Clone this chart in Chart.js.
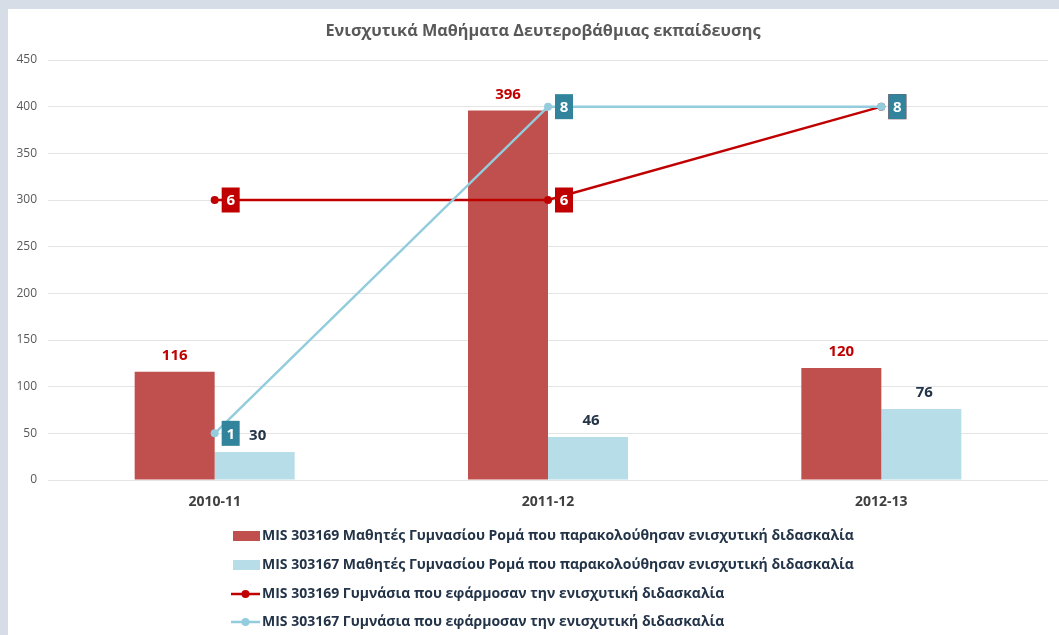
<!DOCTYPE html>
<html>
<head>
<meta charset="utf-8">
<script src="https://cdn.jsdelivr.net/npm/chart.js@4.4.1/dist/chart.umd.min.js"></script>
<style>
  html, body { margin: 0; padding: 0; background: #d6dde6; width: 1059px; height: 635px; overflow: hidden; }
  #panel { position: absolute; left: 8px; top: 9px; width: 1051px; height: 626px; background: #ffffff; }
  canvas { display: block; }
</style>
</head>
<body>
<div id="panel"><canvas id="c" width="1051" height="626"></canvas></div>
<script>
// ---- data ----
const chartTitle = 'Ενισχυτικά Μαθήματα Δευτεροβάθμιας εκπαίδευσης';
const categories = ['2010-11', '2011-12', '2012-13'];
const seriesLabels = [
  'MIS 303169 Μαθητές Γυμνασίου Ρομά που παρακολούθησαν ενισχυτική διδασκαλία',
  'MIS 303167 Μαθητές Γυμνασίου Ρομά που παρακολούθησαν ενισχυτική διδασκαλία',
  'MIS 303169 Γυμνάσια που εφάρμοσαν την ενισχυτική διδασκαλία',
  'MIS 303167 Γυμνάσια που εφάρμοσαν την ενισχυτική διδασκαλία'
];
const students303169 = [116, 396, 120];
const students303167 = [30, 46, 76];
const schools303169 = [6, 6, 8];
const schools303167 = [1, 8, 8];
const leftAxisMax = 450;
const leftAxisStep = 50;
const rightAxisMax = 9;

// ---- styles ----
const FONT = "'Open Sans', 'Noto Sans', sans-serif";
const RED_BAR = '#c0504d';
const BLUE_BAR = '#b7dde8';
const RED_LINE = '#c00000';
const BLUE_LINE = '#93cddd';
const TEAL_BOX = '#31849b';
const NAVY = '#243448';

const labelsPlugin = {
  id: 'customLabels',
  afterDatasetsDraw(chart) {
    const ctx = chart.ctx;
    ctx.save();
    chart.data.datasets.forEach((ds, di) => {
      const meta = chart.getDatasetMeta(di);
      meta.data.forEach((el, i) => {
        const v = ds.data[i];
        if (ds.type === 'bar') {
          ctx.font = "bold 15px " + FONT;
          ctx.fillStyle = ds.labelColor;
          ctx.textAlign = 'center';
          ctx.textBaseline = 'middle';
          ctx.fillText(String(v), el.x + (ds.labelDx || 0), el.y - 16);
        } else {
          const bx = el.x + 7, bw = 18, bh = 25;
          ctx.fillStyle = ds.boxColor;
          ctx.fillRect(bx, el.y - bh / 2, bw, bh);
          ctx.font = "bold 15px " + FONT;
          ctx.fillStyle = '#ffffff';
          ctx.textAlign = 'center';
          ctx.textBaseline = 'middle';
          ctx.fillText(String(v), bx + bw / 2, el.y + 1);
        }
      });
    });
    ctx.restore();
  },
  afterDraw(chart) {
    const ctx = chart.ctx;
    ctx.save();
    // title
    ctx.font = "bold 16.3px " + FONT;
    ctx.fillStyle = '#595959';
    ctx.textAlign = 'center';
    ctx.textBaseline = 'middle';
    ctx.fillText(chartTitle, 535, 22);
    // legend
    const ys = [527, 556, 585, 613];
    const mx = 225;
    chart.data.datasets.forEach((ds, di) => {
      const y = ys[di];
      if (ds.type === 'bar') {
        ctx.fillStyle = ds.backgroundColor;
        ctx.fillRect(mx, y - 5, 27, 10);
      } else {
        ctx.strokeStyle = ds.borderColor;
        ctx.lineWidth = 2.5;
        ctx.beginPath();
        ctx.moveTo(mx - 2, y);
        ctx.lineTo(mx + 27, y);
        ctx.stroke();
        ctx.fillStyle = ds.borderColor;
        ctx.beginPath();
        ctx.arc(mx + 12.5, y, 4, 0, Math.PI * 2);
        ctx.fill();
      }
      ctx.font = "bold 14px " + FONT;
      ctx.fillStyle = NAVY;
      ctx.textAlign = 'left';
      ctx.textBaseline = 'middle';
      ctx.fillText(ds.label, mx + 29, y);
    });
    ctx.restore();
  }
};

new Chart(document.getElementById('c'), {
  data: {
    labels: categories,
    datasets: [
      { type: 'bar', label: seriesLabels[0], data: students303169, backgroundColor: RED_BAR,
        yAxisID: 'y', order: 2, labelColor: RED_LINE },
      { type: 'bar', label: seriesLabels[1], data: students303167, backgroundColor: BLUE_BAR,
        yAxisID: 'y', order: 3, labelColor: NAVY, labelDx: 3 },
      { type: 'line', label: seriesLabels[2], data: schools303169, borderColor: RED_LINE,
        backgroundColor: RED_LINE, borderWidth: 2.5, pointRadius: 4, pointBackgroundColor: RED_LINE,
        pointBorderWidth: 0, yAxisID: 'y1', order: 1, boxColor: RED_LINE, tension: 0 },
      { type: 'line', label: seriesLabels[3], data: schools303167, borderColor: BLUE_LINE,
        backgroundColor: BLUE_LINE, borderWidth: 2.5, pointRadius: 4, pointBackgroundColor: BLUE_LINE,
        pointBorderWidth: 0, yAxisID: 'y1', order: 0, boxColor: TEAL_BOX, tension: 0 }
    ]
  },
  options: {
    responsive: false,
    animation: false,
    layout: { padding: { left: 0, right: 11, top: 51, bottom: 0 } },
    datasets: { bar: { barPercentage: 1.0, categoryPercentage: 0.48 } },
    plugins: { legend: { display: false }, title: { display: false }, tooltip: { enabled: false } },
    scales: {
      x: {
        grid: { display: false },
        border: { display: false },
        ticks: { color: '#404040', font: { family: FONT, size: 14, weight: 'bold' }, padding: 6 },
        afterFit(s) { s.height = 155; }
      },
      y: {
        position: 'left',
        min: 0, max: leftAxisMax,
        ticks: { stepSize: leftAxisStep, color: '#595959', font: { family: FONT, size: 12 }, padding: 11 },
        grid: { color: '#e4e4e4', lineWidth: 1, drawTicks: false },
        border: { display: false },
        afterFit(s) { s.width = 40; }
      },
      y1: { display: false, min: 0, max: rightAxisMax }
    }
  },
  plugins: [labelsPlugin]
});
</script>
</body>
</html>
